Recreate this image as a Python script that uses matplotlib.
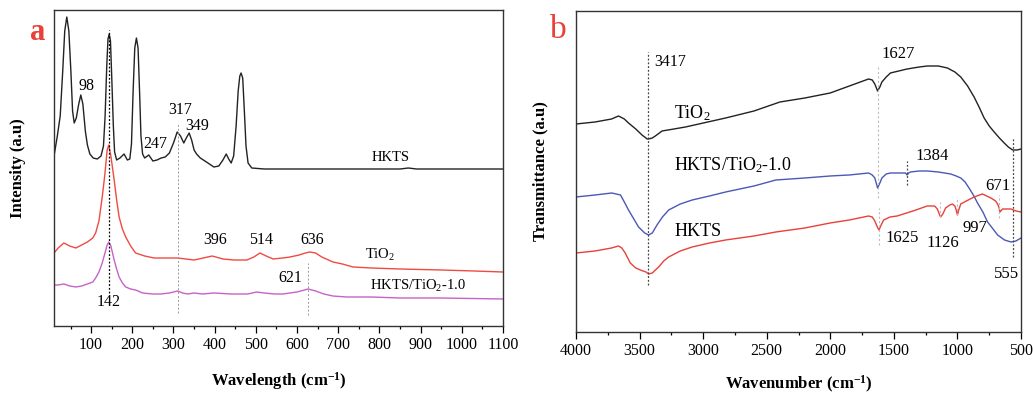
import numpy as np
import matplotlib
matplotlib.use('Agg')
import matplotlib.pyplot as plt

plt.rcParams['font.family'] = ['Liberation Serif', 'DejaVu Serif']
plt.rcParams['mathtext.fontset'] = 'custom'
plt.rcParams['mathtext.rm'] = 'Liberation Serif'
plt.rcParams['mathtext.it'] = 'Liberation Serif:italic'
plt.rcParams['mathtext.bf'] = 'Liberation Serif:bold'

# ---- panel a: Raman spectra (arbitrary units) ----
hkts_x = [10, 18, 25, 31, 36, 41, 46, 51, 55, 59, 64, 70, 75, 80, 86, 91, 97, 105, 115, 124,
          130, 134, 138, 141, 144, 147, 150, 154, 157, 162, 170, 180, 188, 194, 198, 202, 206,
          210, 214, 218, 221, 225, 230, 240, 250, 260, 270, 280, 290, 300, 309, 317, 325, 331,
          338, 344, 350, 356, 365, 380, 398, 410, 420, 428, 434, 440, 446, 452, 457, 461, 464,
          468, 472, 476, 481, 490, 520, 600, 700, 800, 850, 870, 890, 1000, 1100]
hkts_y = [170, 190, 210, 254, 295, 309, 295, 254, 215, 203, 208, 222, 231, 222, 195, 181, 172,
          168, 167, 170, 180, 210, 260, 287, 292, 285, 250, 200, 174, 166, 168, 172, 166, 167,
          182, 235, 278, 288, 278, 230, 190, 172, 168, 171, 165, 166, 168, 169, 173, 183, 194,
          190, 183, 188, 193, 186, 176, 172, 168, 164, 159, 160, 166, 172, 167, 163, 170, 200,
          235, 250, 253, 248, 215, 180, 163, 158, 157, 157, 157, 157, 157, 158, 157, 157, 157]

tio2_x = [10, 20, 34, 48, 63, 77, 91, 104, 111, 119, 127, 133, 139, 143, 148, 156, 162, 168,
          176, 184, 196, 208, 230, 253, 280, 310, 330, 350, 372, 394, 420, 447, 478, 495, 510,
          525, 542, 565, 583, 605, 620, 631, 645, 660, 687, 710, 736, 780, 850, 950, 1030, 1100]
tio2_y = [73, 78, 83, 80, 78, 81, 84, 88, 93, 105, 129, 150, 176, 181, 170, 146, 126, 109,
          97, 89, 80, 73, 70, 68, 68, 68, 67, 66, 68, 70, 67, 66, 66, 69, 73, 70, 67, 68, 69,
          71, 73, 74, 73, 69, 64, 62, 59, 58, 57, 56, 55, 54]

mix_x = [10, 20, 34, 48, 63, 77, 91, 104, 111, 119, 127, 133, 139, 143, 148, 156, 162, 168,
         176, 184, 196, 208, 225, 250, 269, 290, 310, 322, 334, 350, 370, 398, 440, 480, 502,
         520, 545, 565, 600, 627, 645, 665, 687, 720, 780, 850, 950, 1100]
mix_y = [41, 41, 42, 40, 39, 40, 42, 44, 48, 54, 63, 72, 81, 84, 80, 66, 57, 49, 43, 39,
         37, 36, 33, 32, 32, 33, 35, 33, 32, 33, 32, 33, 32, 32, 34, 33, 32, 32, 34, 37,
         35, 32, 30, 29, 29, 28, 28, 27]

# ---- panel b: FTIR spectra ----
tio2b_x = [4000, 3850, 3720, 3666, 3620, 3587, 3530, 3481, 3440, 3429, 3400, 3376, 3323, 3230,
           3139, 2823, 2600, 2396, 2200, 2001, 1850, 1699, 1670, 1650, 1628, 1610, 1594, 1560,
           1527, 1396, 1300, 1237, 1150, 1079, 1020, 974, 920, 869, 830, 790, 750, 711, 670,
           632, 600, 566, 530, 500]
tio2b_y = [208, 210, 213, 216, 213, 209, 203, 197, 193, 193, 194, 196, 201, 203, 205, 214,
           221, 230, 234, 239, 246, 253, 252, 248, 241, 245, 250, 255, 259, 263, 265, 266, 266,
           264, 260, 255, 246, 235, 225, 214, 206, 200, 194, 189, 185, 182, 182, 183]

mixb_x = [4000, 3850, 3718, 3650, 3620, 3587, 3550, 3508, 3460, 3429, 3400, 3363, 3320, 3271,
          3180, 3086, 2950, 2823, 2600, 2428, 2200, 2001, 1850, 1699, 1670, 1650, 1628, 1610,
          1594, 1560, 1527, 1430, 1409, 1396, 1383, 1370, 1300, 1237, 1150, 1053, 1010, 974,
          940, 909, 875, 842, 800, 763, 720, 684, 630, 579, 540, 500]
mixb_y = [135, 137, 139, 137, 130, 122, 114, 105, 99, 97, 99, 107, 115, 122, 128, 132, 136,
          140, 146, 152, 154, 156, 157, 159, 157, 154, 144, 149, 154, 158, 159, 159, 159, 157,
          159, 160, 161, 161, 160, 158, 156, 154, 150, 144, 137, 129, 120, 110, 103, 97, 92,
          90, 91, 94]

hktsb_x = [4000, 3850, 3720, 3666, 3640, 3613, 3573, 3530, 3494, 3450, 3429, 3400, 3350, 3310,
           3271, 3180, 3086, 2950, 2823, 2600, 2428, 2200, 2001, 1850, 1699, 1670, 1650, 1630,
           1617, 1600, 1580, 1530, 1474, 1350, 1237, 1180, 1158, 1140, 1132, 1115, 1093, 1060,
           1040, 1020, 1010, 1000, 990, 974, 930, 869, 803, 737, 700, 684, 672, 666, 645, 610,
           579, 540, 500]
hktsb_y = [79, 81, 84, 86, 84, 79, 69, 64, 62, 60, 58, 59, 65, 71, 75, 81, 85, 89, 92, 96,
           100, 104, 109, 112, 116, 115, 111, 105, 102, 107, 112, 115, 116, 121, 126, 126,
           123, 117, 115, 118, 124, 127, 128, 126, 122, 117, 122, 128, 131, 135, 138, 134,
           131, 128, 124, 120, 123, 123, 123, 121, 120]

fig = plt.figure(figsize=(10.33, 3.94), dpi=100)
ax1 = fig.add_axes([0.0523, 0.1726, 0.4347, 0.802])
ax2 = fig.add_axes([0.5576, 0.1574, 0.4308, 0.8147])

# panel a
ax1.plot(hkts_x, hkts_y, color='#222222', lw=1.0)
ax1.plot(tio2_x, tio2_y, color='#ee4b43', lw=1.0)
ax1.plot(mix_x, mix_y, color='#c762c7', lw=1.0)
ax1.vlines(144, 33, 296, colors='black', linestyles=(0, (1.5, 1.5)), lw=0.9)
ax1.vlines(310, 13, 203, colors='#999999', linestyles=(0, (2, 2)), lw=0.7)
ax1.vlines(627, 11, 63, colors='#999999', linestyles=(0, (2, 2)), lw=0.7)
ax1.set_xlim(10, 1100)
ax1.set_ylim(0, 316)
ax1.set_xticks(np.arange(100, 1101, 100))
ax1.set_xticks(np.arange(50, 1100, 100), minor=True)
ax1.set_yticks([])
ax1.tick_params(axis='x', which='major', direction='out', length=5, width=0.9, labelsize=11.5, pad=3)
ax1.tick_params(axis='x', which='minor', direction='out', length=2.5, width=0.9)
ax1.set_xlabel('Wavelength (cm$^{\\mathbf{-1}}$)', fontsize=12, fontweight='bold', labelpad=12)
ax1.set_ylabel('Intensity (a.u)', fontsize=12, fontweight='bold', labelpad=20)

fs = 11.5
ax1.text(90, 236, '98', fontsize=fs, ha='center')
ax1.text(255, 178, '247', fontsize=fs, ha='center')
ax1.text(316, 212, '317', fontsize=fs, ha='center')
ax1.text(358, 196, '349', fontsize=fs, ha='center')
ax1.text(826, 165, 'HKTS', fontsize=10.5, ha='center')
ax1.text(401, 82, '396', fontsize=fs, ha='center')
ax1.text(512, 82, '514', fontsize=fs, ha='center')
ax1.text(636, 82, '636', fontsize=fs, ha='center')
ax1.text(801, 67, 'TiO$_2$', fontsize=10.5, ha='center')
ax1.text(583, 44, '621', fontsize=fs, ha='center')
ax1.text(894, 36, 'HKTS/TiO$_2$-1.0', fontsize=10.5, ha='center')
ax1.text(142, 20, '142', fontsize=fs, ha='center')
fig.text(38 / 1033, 1 - 32 / 394, 'a', color='#e8413a', fontsize=22, fontweight='bold',
         ha='center', va='center')

# panel b
ax2.plot(tio2b_x, tio2b_y, color='#222222', lw=1.0)
ax2.plot(mixb_x, mixb_y, color='#4b58b5', lw=1.0)
ax2.plot(hktsb_x, hktsb_y, color='#e8413a', lw=1.0)
ax2.vlines(3437, 47, 280, colors='#444444', linestyles=(0, (1.5, 1.5)), lw=0.9)
ax2.vlines(1625, 134, 265, colors='#bbbbbb', linestyles=(0, (2, 2)), lw=0.8)
ax2.vlines(1617, 87, 124, colors='#bbbbbb', linestyles=(0, (2, 2)), lw=0.8)
ax2.vlines(1396, 147, 171, colors='#444444', linestyles=(0, (1.5, 1.5)), lw=0.9)
ax2.vlines(1140, 115, 130, colors='#bbbbbb', linestyles=(0, (2, 2)), lw=0.8)
ax2.vlines(1000, 117, 135, colors='#bbbbbb', linestyles=(0, (2, 2)), lw=0.8)
ax2.vlines(672, 114, 137, colors='#bbbbbb', linestyles=(0, (2, 2)), lw=0.8)
ax2.vlines(566, 75, 194, colors='#444444', linestyles=(0, (1.5, 1.5)), lw=0.9)
ax2.set_xlim(4000, 500)
ax2.set_ylim(0, 321)
ax2.set_xticks(np.arange(4000, 499, -500))
ax2.set_xticks(np.arange(3750, 500, -500), minor=True)
ax2.set_yticks([])
ax2.tick_params(axis='x', which='major', direction='out', length=5, width=0.9, labelsize=11.5, pad=3)
ax2.tick_params(axis='x', which='minor', direction='out', length=2.5, width=0.9)
ax2.set_xlabel('Wavenumber (cm$^{\\mathbf{-1}}$)', fontsize=12, fontweight='bold', labelpad=11)
ax2.set_ylabel('Transmittance (a.u)', fontsize=12, fontweight='bold', labelpad=20)

ax2.text(3384, 266, '3417', fontsize=11.5, ha='left')
ax2.text(1600, 274, '1627', fontsize=12, ha='left')
ax2.text(3226, 214, 'TiO$_2$', fontsize=13, ha='left')
ax2.text(3226, 162, 'HKTS/TiO$_2$-1.0', fontsize=13, ha='left')
ax2.text(1200, 172, '1384', fontsize=12, ha='center')
ax2.text(682, 142, '671', fontsize=12, ha='center')
ax2.text(3226, 96, 'HKTS', fontsize=13, ha='left')
ax2.text(1432, 90, '1625', fontsize=12, ha='center')
ax2.text(1116, 85, '1126', fontsize=12, ha='center')
ax2.text(864, 100, '997', fontsize=12, ha='center')
ax2.text(612, 54, '555', fontsize=12, ha='center')
fig.text(558 / 1033, 1 - 30 / 394, 'b', color='#e8413a', fontsize=24,
         ha='center', va='center')

for ax in (ax1, ax2):
    for sp in ax.spines.values():
        sp.set_linewidth(1.0)
        sp.set_color('#333333')

plt.savefig('out.png', dpi=100)
